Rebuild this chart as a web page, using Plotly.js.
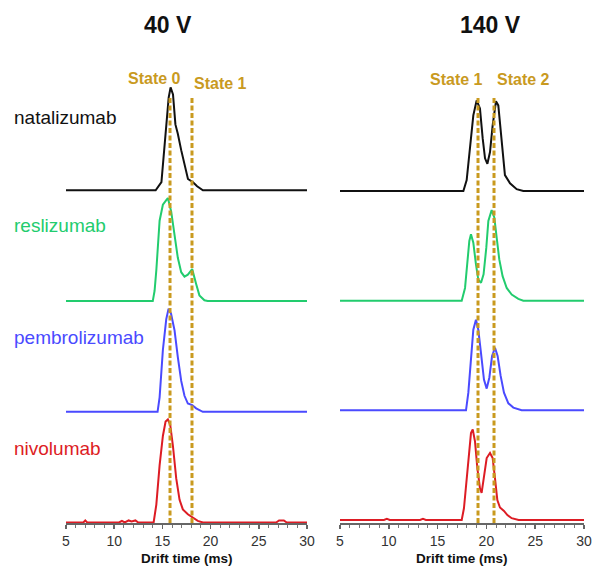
<!DOCTYPE html>
<html>
<head>
<meta charset="utf-8">
<script src="https://cdn.plot.ly/plotly-3.0.1.min.js"></script>
<style>html,body{margin:0;padding:0;background:#fff;}#chart{width:595px;height:567px;}</style>
</head>
<body>
<div id="chart"></div>
<script>
// ---- data (drift time in ms, normalized intensity) ----
const names = ["natalizumab", "reslizumab", "pembrolizumab", "nivolumab"];
const colors = ["#111111", "#22cc6e", "#4a4aff", "#dd1c24"];

// 40 V panel
const nat40_x = [5, 14.3, 14.9, 15.4, 15.65, 15.85, 16.1, 16.35, 16.6, 16.95, 17.3, 17.65, 18.15, 18.6, 19.2, 30];
const nat40_y = [0, 0, 0.08, 0.58, 0.9, 1.0, 0.93, 0.64, 0.55, 0.39, 0.25, 0.11, 0.08, 0.04, 0, 0];
const res40_x = [5, 14.0, 14.19, 14.37, 14.71, 15.05, 15.4, 15.57, 15.91, 16.26, 16.6, 16.95, 17.29, 17.64, 18.09, 18.5, 18.84, 19.36, 19.7, 30];
const res40_y = [0, 0, 0.10, 0.30, 0.78, 0.935, 0.98, 1.0, 0.87, 0.615, 0.42, 0.28, 0.237, 0.256, 0.31, 0.166, 0.055, 0.007, 0, 0];
const pem40_x = [5, 14.5, 14.71, 15.05, 15.4, 15.64, 15.9, 16.26, 16.6, 16.95, 17.29, 17.64, 18.09, 18.5, 19.19, 30];
const pem40_y = [0, 0, 0.14, 0.6, 0.9, 1.0, 0.95, 0.79, 0.53, 0.3, 0.155, 0.08, 0.065, 0.033, 0, 0];
const niv40_x = [5, 6.8, 7.0, 7.2, 10.5, 10.8, 11.1, 11.5, 11.8, 12.2, 12.5, 14.09, 14.37, 14.71, 15.05, 15.33, 15.57, 15.81, 16.09, 16.43, 16.78, 17.12, 17.64, 18.09, 18.67, 19.2, 26.8, 27.1, 27.6, 27.9, 30];
const niv40_y = [0, 0, 0.02, 0, 0, 0.015, 0, 0.02, 0.01, 0.02, 0, 0, 0.174, 0.555, 0.84, 0.98, 1.0, 0.95, 0.745, 0.43, 0.22, 0.127, 0.08, 0.054, 0.016, 0, 0, 0.02, 0.02, 0, 0];

// 140 V panel
const nat140_x = [5, 17.64, 17.98, 18.32, 18.66, 19.0, 19.34, 19.62, 19.86, 20.1, 20.37, 20.64, 20.98, 21.22, 21.57, 21.9, 22.42, 23.1, 23.78, 30];
const nat140_y = [0, 0, 0.12, 0.47, 0.835, 1.0, 0.91, 0.58, 0.36, 0.30, 0.43, 0.725, 0.99, 0.945, 0.58, 0.175, 0.085, 0.02, 0, 0];
const res140_x = [5, 17.47, 17.81, 18.08, 18.25, 18.42, 18.66, 18.93, 19.17, 19.45, 19.71, 19.99, 20.2, 20.54, 20.81, 21.05, 21.32, 21.66, 22.08, 22.59, 23.27, 23.78, 30];
const res140_y = [0, 0, 0.14, 0.44, 0.66, 0.733, 0.64, 0.4, 0.233, 0.197, 0.29, 0.585, 0.88, 1.0, 0.92, 0.7, 0.455, 0.27, 0.14, 0.067, 0.02, 0, 0];
const pem140_x = [5, 17.91, 18.15, 18.39, 18.66, 18.93, 19.17, 19.45, 19.75, 20.03, 20.3, 20.58, 20.88, 21.15, 21.46, 21.8, 22.25, 22.76, 23.61, 30];
const pem140_y = [0, 0, 0.195, 0.56, 0.89, 1.0, 0.89, 0.63, 0.34, 0.24, 0.36, 0.6, 0.69, 0.6, 0.38, 0.195, 0.077, 0.03, 0, 0];
const niv140_x = [5, 9.5, 9.8, 10.1, 13.2, 13.5, 13.8, 17.47, 17.7, 17.98, 18.25, 18.42, 18.6, 18.83, 19.07, 19.34, 19.51, 19.75, 20.03, 20.37, 20.64, 20.88, 21.12, 21.39, 21.8, 22.15, 22.59, 23.3, 30];
const niv140_y = [0, 0, 0.012, 0, 0, 0.012, 0, 0, 0.13, 0.46, 0.76, 0.96, 1.0, 0.87, 0.575, 0.35, 0.3, 0.46, 0.685, 0.74, 0.685, 0.46, 0.22, 0.138, 0.1, 0.055, 0.02, 0, 0];

const panel40 = [[nat40_x, nat40_y], [res40_x, res40_y], [pem40_x, pem40_y], [niv40_x, niv40_y]];
const panel140 = [[nat140_x, nat140_y], [res140_x, res140_y], [pem140_x, pem140_y], [niv140_x, niv140_y]];

const states40 = [15.79, 18.07];
const states140 = [19.14, 20.78];
const stateLabels40 = ["State 0", "State 1"];
const stateLabels140 = ["State 1", "State 2"];
const xTicks = [5, 10, 15, 20, 25, 30];

// ---- build ----
const gold = "#c99a1f";
const step40 = 1.075, step140 = 1.212;
const traces = [];
panel40.forEach((d, i) => {
  const off = (3 - i) * step40;
  traces.push({x: d[0], y: d[1].map(v => v + off), xaxis: "x", yaxis: "y", type: "scatter", mode: "lines",
    line: {color: colors[i], width: 2}, hoverinfo: "skip", showlegend: false});
});
panel140.forEach((d, i) => {
  const off = (3 - i) * step140;
  traces.push({x: d[0], y: d[1].map(v => v + off), xaxis: "x2", yaxis: "y2", type: "scatter", mode: "lines",
    line: {color: colors[i], width: 2}, hoverinfo: "skip", showlegend: false});
});

const TOP = 60, BOT = 523, H = BOT - TOP;
const py = p => (BOT - p) / H;
const shapes = [];
const yTopPaper = py(96);
states40.forEach(s => shapes.push({type: "line", xref: "x", yref: "paper", x0: s, x1: s, y0: 0, y1: yTopPaper,
  line: {color: gold, width: 3, dash: "5px,2.5px"}}));
states140.forEach(s => shapes.push({type: "line", xref: "x2", yref: "paper", x0: s, x1: s, y0: 0, y1: yTopPaper,
  line: {color: gold, width: 3, dash: "5px,2.5px"}}));

const annotations = [];
annotations.push({text: "<b>40 V</b>", xref: "paper", yref: "paper", x: 168 / 595, y: py(25), showarrow: false,
  font: {family: "Arial, Liberation Sans, sans-serif", size: 23, color: "#111"}, xanchor: "center", yanchor: "middle"});
annotations.push({text: "<b>140 V</b>", xref: "paper", yref: "paper", x: 490 / 595, y: py(25), showarrow: false,
  font: {family: "Arial, Liberation Sans, sans-serif", size: 23, color: "#111"}, xanchor: "center", yanchor: "middle"});
const stateFont = {family: "Arial, Liberation Sans, sans-serif", size: 16, color: gold};
annotations.push({text: "<b>" + stateLabels40[0] + "</b>", xref: "x", yref: "paper", x: 14.19, y: py(78), showarrow: false, font: stateFont, xanchor: "center", yanchor: "middle"});
annotations.push({text: "<b>" + stateLabels40[1] + "</b>", xref: "x", yref: "paper", x: 21.01, y: py(84), showarrow: false, font: stateFont, xanchor: "center", yanchor: "middle"});
annotations.push({text: "<b>" + stateLabels140[0] + "</b>", xref: "x2", yref: "paper", x: 16.89, y: py(79), showarrow: false, font: stateFont, xanchor: "center", yanchor: "middle"});
annotations.push({text: "<b>" + stateLabels140[1] + "</b>", xref: "x2", yref: "paper", x: 23.85, y: py(79), showarrow: false, font: stateFont, xanchor: "center", yanchor: "middle"});
const labelY = [118, 225, 337, 448];
names.forEach((n, i) => annotations.push({text: n, xref: "paper", yref: "paper", x: 12 / 595, y: py(labelY[i]), showarrow: false,
  font: {family: "Arial, Liberation Sans, sans-serif", size: 19, color: colors[i]}, xanchor: "left", yanchor: "middle"}));
const titleFont = {family: "Arial, Liberation Sans, sans-serif", size: 13.5, color: "#111"};
annotations.push({text: "<b>Drift time (ms)</b>", xref: "paper", yref: "paper", x: 187 / 595, y: py(567), showarrow: false, font: titleFont, xanchor: "center", yanchor: "bottom", borderpad: 0});
annotations.push({text: "<b>Drift time (ms)</b>", xref: "paper", yref: "paper", x: 462 / 595, y: py(567), showarrow: false, font: titleFont, xanchor: "center", yanchor: "bottom", borderpad: 0});

const xCommon = {range: [5, 30], tickvals: xTicks, ticktext: xTicks.map(String), ticks: "outside", ticklen: 4, tickwidth: 1.5, tickcolor: "#666",
  showline: true, linecolor: "#666", linewidth: 2, showgrid: false, zeroline: false, fixedrange: true,
  tickfont: {family: "Arial, Liberation Sans, sans-serif", size: 14, color: "#333"},
  minor: {dtick: 1, ticks: "outside", ticklen: 3, tickcolor: "#777", tickwidth: 1, showgrid: false}};

const y40min = -0.5 / 103, y140min = -3 / 90.5;
const layout = {
  width: 595, height: 567, margin: {l: 0, r: 0, t: TOP, b: 567 - BOT}, paper_bgcolor: "#fff", plot_bgcolor: "#fff",
  showlegend: false,
  xaxis: Object.assign({}, xCommon, {domain: [66 / 595, 307 / 595], anchor: "y"}),
  xaxis2: Object.assign({}, xCommon, {domain: [340 / 595, 584 / 595], anchor: "y2"}),
  yaxis: {range: [y40min, y40min + H / 103], visible: false, fixedrange: true},
  yaxis2: {range: [y140min, y140min + H / 90.5], visible: false, fixedrange: true},
  shapes: shapes, annotations: annotations
};
Plotly.newPlot("chart", traces, layout, {staticPlot: true, displayModeBar: false});
</script>
</body>
</html>
